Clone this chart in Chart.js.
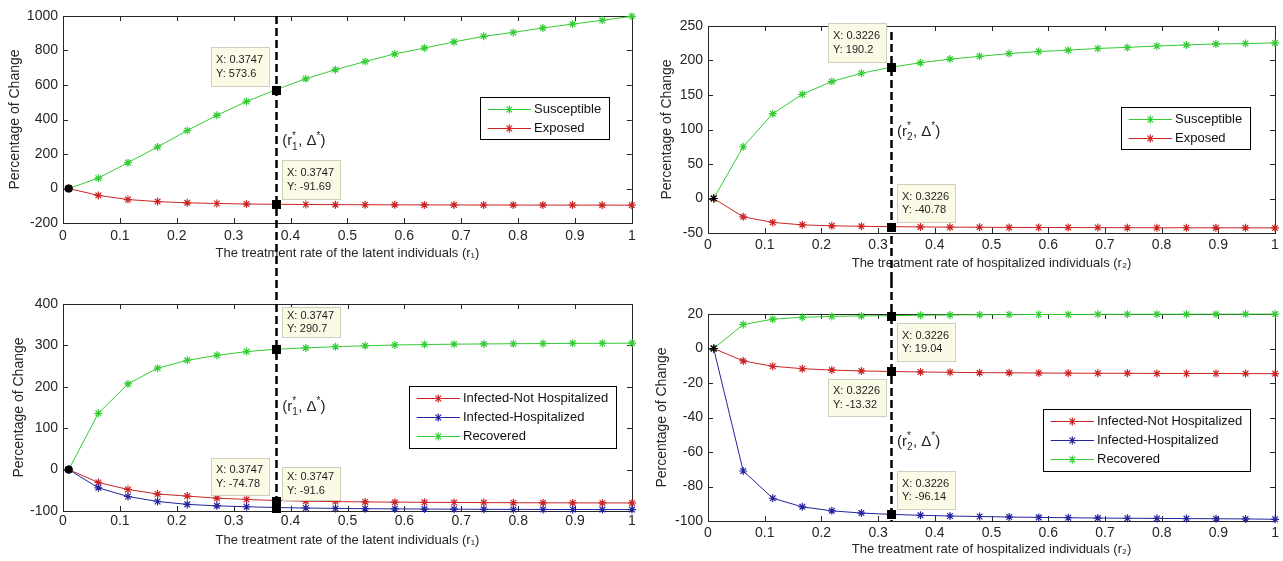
<!DOCTYPE html>
<html><head><meta charset="utf-8">
<script src="https://cdn.jsdelivr.net/npm/chart.js@4.4.1/dist/chart.umd.min.js"></script>
<style>
html,body{margin:0;padding:0;background:#fff;}
body{width:1283px;height:561px;position:relative;overflow:hidden;}
canvas{position:absolute;}
</style></head><body>
<canvas id="c1" width="640" height="280" style="left:0;top:0"></canvas>
<canvas id="c2" width="643" height="280" style="left:640px;top:0"></canvas>
<canvas id="c3" width="640" height="281" style="left:0;top:280px"></canvas>
<canvas id="c4" width="643" height="281" style="left:640px;top:280px"></canvas>
<script>
// ---- data ----
const rValues = [0.01, 0.0621, 0.1142, 0.1663, 0.2184, 0.2705, 0.3226, 0.3747, 0.4268, 0.4789,
                 0.5311, 0.5832, 0.6353, 0.6874, 0.7395, 0.7916, 0.8437, 0.8958, 0.9479, 1.0];
const xTickValues = [0, 0.1, 0.2, 0.3, 0.4, 0.5, 0.6, 0.7, 0.8, 0.9, 1];
const xTickLabels = ['0', '0.1', '0.2', '0.3', '0.4', '0.5', '0.6', '0.7', '0.8', '0.9', '1'];
const yTicksA = [-200, 0, 200, 400, 600, 800, 1000];
const yTicksB = [-50, 0, 50, 100, 150, 200, 250];
const yTicksC = [-100, 0, 100, 200, 300, 400];
const yTicksD = [-100, -80, -60, -40, -20, 0, 20];

// varying r1 (latent treatment)
const r1Susceptible = [0, 60, 150, 241, 336, 424, 504, 573.6, 636, 689, 736, 780, 814, 850, 882, 905, 931, 953, 975, 998];
const r1Exposed     = [0, -40, -64, -76, -83, -87, -90, -91.69, -92.8, -93.6, -94.2, -94.7, -95.1, -95.4, -95.7, -95.9, -96.1, -96.3, -96.4, -96.5];
const r1InfNotHosp  = [0, -31, -48, -59, -64, -69, -72, -74.78, -76.3, -77.3, -78, -78.6, -79, -79.4, -79.7, -80, -80.2, -80.4, -80.5, -80.6];
const r1InfHosp     = [0, -44, -65, -77, -84, -87.5, -89.7, -91.6, -92.8, -93.7, -94.4, -94.9, -95.3, -95.6, -95.9, -96.1, -96.3, -96.4, -96.5, -96.6];
const r1Recovered   = [0, 136, 207, 245, 264, 276, 285, 290.7, 294, 297, 299, 301, 302, 303, 303.5, 304, 304.5, 305, 305, 305.5];
// varying r2 (hospitalized treatment)
const r2Susceptible = [0, 75, 123, 151, 169.5, 181.5, 190.2, 196.8, 202, 206, 210, 213, 215, 217.5, 219, 221, 222.5, 224, 224.5, 225.5];
const r2Exposed     = [0, -26.5, -34.7, -38.2, -39.6, -40.3, -40.78, -41.2, -41.5, -41.7, -41.9, -42.0, -42.1, -42.2, -42.3, -42.4, -42.4, -42.5, -42.5, -42.6];
const r2InfNotHosp  = [0, -7.2, -10.3, -11.7, -12.5, -13.0, -13.32, -13.6, -13.8, -14.0, -14.1, -14.2, -14.3, -14.35, -14.4, -14.45, -14.5, -14.5, -14.55, -14.6];
const r2InfHosp     = [0, -71, -86.8, -91.8, -94.1, -95.4, -96.14, -96.7, -97.1, -97.4, -97.7, -97.9, -98.1, -98.3, -98.4, -98.5, -98.6, -98.7, -98.8, -99.0];
const r2Recovered   = [0, 13.9, 17, 18.1, 18.6, 18.9, 19.04, 19.3, 19.45, 19.55, 19.65, 19.7, 19.75, 19.8, 19.85, 19.88, 19.9, 19.92, 19.94, 19.96];

const r1StarIndex = 7;   // r1* = 0.3747
const r2StarIndex = 6;   // r2* = 0.3226

const GREEN = '#33cc33', RED = '#cc2424', BLUE = '#24249e';
const FONT = '"Liberation Sans", Arial, Helvetica, sans-serif';
const TXT = '#262626';
Chart.defaults.font.family = FONT;

function fmt(v) { return String(parseFloat(v.toPrecision(4))); }

function drawStar(ctx, x, y, r) {
  ctx.beginPath();
  ctx.moveTo(x - r, y); ctx.lineTo(x + r, y);
  ctx.moveTo(x, y - r); ctx.lineTo(x, y + r);
  const d = r * Math.SQRT1_2;
  ctx.moveTo(x - d, y - d); ctx.lineTo(x + d, y + d);
  ctx.moveTo(x - d, y + d); ctx.lineTo(x + d, y - d);
  ctx.stroke();
}

const matlabPlugin = {
  id: 'matlab',
  beforeDatasetsDraw(chart, args, o) {
    const {ctx, chartArea: a, scales: {x, y}} = chart;
    ctx.save();
    ctx.strokeStyle = '#262626'; ctx.lineWidth = 1;
    ctx.beginPath();
    for (const v of xTickValues) {
      const px = Math.round(x.getPixelForValue(v)) + 0.5;
      ctx.moveTo(px, a.bottom); ctx.lineTo(px, a.bottom - 5);
      ctx.moveTo(px, a.top); ctx.lineTo(px, a.top + 5);
    }
    for (const v of o.yTicks) {
      const py = Math.round(y.getPixelForValue(v)) + 0.5;
      ctx.moveTo(a.left, py); ctx.lineTo(a.left + 5, py);
      ctx.moveTo(a.right, py); ctx.lineTo(a.right - 5, py);
    }
    ctx.stroke();
    ctx.strokeRect(Math.round(a.left) + 0.5, Math.round(a.top) + 0.5,
                   Math.round(a.right - a.left), Math.round(a.bottom - a.top));
    ctx.restore();
  },
  afterDraw(chart, args, o) {
    const {ctx, chartArea: a, scales: {x, y}} = chart;
    const rStar = rValues[o.idx];
    const px = x.getPixelForValue(rStar);
    ctx.save();
    // dashed vertical line through the optimum
    ctx.setLineDash([8, 4]); ctx.lineWidth = 2.5; ctx.strokeStyle = '#000';
    ctx.beginPath();
    ctx.moveTo(Math.round(px) + 0.5, o.dashTop === null ? 0 : a.top + o.dashTop);
    ctx.lineTo(Math.round(px) + 0.5, o.dashBottom === null ? chart.height : a.bottom);
    ctx.stroke();
    ctx.setLineDash([]);
    // data tips
    for (const t of o.tips) {
      const ds = chart.data.datasets[t.ds];
      const pt = ds.data[o.idx];
      const qx = x.getPixelForValue(pt.x), qy = y.getPixelForValue(pt.y);
      ctx.fillStyle = '#000';
      ctx.fillRect(Math.round(qx) - 4, Math.round(qy) - 4, 9, 9);
      const l1 = 'X: ' + fmt(pt.x), l2 = 'Y: ' + fmt(pt.y);
      ctx.font = '11px ' + FONT;
      const w = Math.max(ctx.measureText(l1).width, ctx.measureText(l2).width) + 11;
      const h = t.h;
      const bx = Math.round(t.dx < 0 ? qx + t.dx - w : qx + t.dx);
      const by = Math.round(t.dy < 0 ? qy + t.dy - h : qy + t.dy);
      ctx.fillStyle = '#fafae6';
      ctx.fillRect(bx, by, w, h);
      ctx.strokeStyle = '#cfcfbd'; ctx.lineWidth = 1;
      ctx.strokeRect(bx + 0.5, by + 0.5, Math.round(w), h);
      ctx.fillStyle = '#1e1e1e'; ctx.textBaseline = 'middle'; ctx.textAlign = 'left';
      ctx.fillText(l1, bx + 5, by + h / 2 - 6.5);
      ctx.fillText(l2, bx + 5, by + h / 2 + 7);
    }
    // (r*, Δ*) annotation
    {
      let cx = px + 6;
      const cy = y.getPixelForValue(o.annotY);
      const big = '15px ' + FONT, small = '10px ' + FONT;
      ctx.fillStyle = '#1e1e1e'; ctx.textBaseline = 'middle'; ctx.textAlign = 'left';
      ctx.font = big; ctx.fillText('(r', cx, cy); cx += ctx.measureText('(r').width;
      ctx.font = small; ctx.fillText('*', cx, cy - 5); ctx.fillText(o.sub, cx, cy + 6);
      cx += ctx.measureText(o.sub).width + 0.5;
      ctx.font = big; ctx.fillText(', \u0394', cx, cy); cx += ctx.measureText(', \u0394').width;
      ctx.font = small; ctx.fillText('*', cx, cy - 5); cx += ctx.measureText('*').width;
      ctx.font = big; ctx.fillText(')', cx, cy);
    }
    // legend
    {
      const items = o.legend.map(i => chart.data.datasets[i]);
      ctx.font = '13px ' + FONT;
      const tw = Math.max(...items.map(d => ctx.measureText(d.label).width));
      const w = Math.round(54 + tw + 8), h = Math.round(items.length * 19.3 + 3.6);
      const bx = Math.round(a.right - o.legendRight - w), by = Math.round(a.top + o.legendTop);
      ctx.fillStyle = '#fff'; ctx.fillRect(bx, by, w, h);
      ctx.strokeStyle = '#000'; ctx.lineWidth = 1; ctx.strokeRect(bx + 0.5, by + 0.5, w, h);
      items.forEach((d, i) => {
        const cy = Math.round(by + 11.5 + 19.3 * i) + 0.5;
        ctx.strokeStyle = d.borderColor; ctx.lineWidth = 1;
        ctx.beginPath(); ctx.moveTo(bx + 7.7, cy); ctx.lineTo(bx + 51, cy); ctx.stroke();
        ctx.lineWidth = 1.2; drawStar(ctx, bx + 29.3, cy, 4);
        ctx.fillStyle = '#111'; ctx.textBaseline = 'middle'; ctx.textAlign = 'left';
        ctx.fillText(d.label, bx + 54, cy);
      });
    }
    ctx.restore();
  }
};

function makeChart(id, cfg) {
  const n = cfg.series.length;
  const datasets = cfg.series.map((s, i) => ({
    label: s.name,
    data: rValues.map((r, k) => ({x: r, y: s.values[k]})),
    borderColor: s.color, backgroundColor: s.color,
    borderWidth: 1, pointStyle: 'star', pointRadius: 4, pointHoverRadius: 4,
    pointBorderWidth: 1.2, tension: 0, clip: false, order: n - i
  }));
  datasets.push({
    label: '', data: [{x: rValues[0], y: cfg.series[0].values[0]}],
    showLine: false, borderColor: '#000', backgroundColor: '#000',
    pointStyle: cfg.originStyle, pointRadius: cfg.originStyle === 'circle' ? 3.5 : 4,
    pointBorderWidth: 1.2, clip: false, order: 0
  });
  return new Chart(document.getElementById(id), {
    type: 'line',
    data: {datasets},
    options: {
      responsive: false, animation: false, devicePixelRatio: 1, events: [],
      layout: {padding: {left: 0, right: cfg.padR, top: cfg.padT, bottom: 0}},
      plugins: {
        legend: {display: false}, tooltip: {enabled: false},
        matlab: cfg.extra
      },
      scales: {
        x: {
          type: 'linear', min: 0, max: 1,
          afterBuildTicks: s => { s.ticks = xTickValues.map(v => ({value: v})); },
          afterFit: s => { s.height = cfg.xH; },
          grid: {display: false, drawTicks: false}, border: {display: false},
          ticks: {padding: cfg.xTickPad, color: TXT, font: {size: 14}, maxRotation: 0, autoSkip: false,
                  callback: (v, i) => xTickLabels[i]},
          title: {display: true, text: cfg.xTitle, color: TXT, font: {size: 13},
                  padding: {top: 0, bottom: cfg.xTitlePad}}
        },
        y: {
          type: 'linear', min: cfg.yTicks[0], max: cfg.yTicks[cfg.yTicks.length - 1],
          afterBuildTicks: s => { s.ticks = cfg.yTicks.map(v => ({value: v})); },
          afterFit: s => { s.width = cfg.yW; },
          grid: {display: false, drawTicks: false}, border: {display: false},
          ticks: {padding: 5, color: TXT, font: {size: 14}, callback: (v, i) => String(cfg.yTicks[i])},
          title: {display: true, text: 'Percentage of Change', color: TXT, font: {size: 14},
                  padding: {top: cfg.yTitlePad, bottom: 0}}
        }
      }
    },
    plugins: [matlabPlugin]
  });
}

makeChart('c1', {
  series: [{name: 'Susceptible', values: r1Susceptible, color: GREEN},
           {name: 'Exposed', values: r1Exposed, color: RED}],
  originStyle: 'circle', yTicks: yTicksA,
  padR: 8, padT: 16, xH: 57, yW: 63, xTickPad: 4.3, xTitlePad: 19, yTitlePad: 7,
  xTitle: 'The treatment rate of the latent individuals (r\u2081)',
  extra: {idx: r1StarIndex, yTicks: yTicksA, dashTop: 0, dashBottom: null, annotY: 275, sub: '1',
          tips: [{ds: 0, dx: -7, dy: -4, h: 39}, {ds: 1, dx: 6, dy: -5, h: 39}],
          legend: [0, 1], legendRight: 23, legendTop: 81}
});
makeChart('c2', {
  series: [{name: 'Susceptible', values: r2Susceptible, color: GREEN},
           {name: 'Exposed', values: r2Exposed, color: RED}],
  originStyle: 'star', yTicks: yTicksB,
  padR: 7, padT: 26, xH: 47, yW: 68, xTickPad: 4.1, xTitlePad: 9, yTitlePad: 18.6,
  xTitle: 'The treatment rate of hospitalized individuals (r\u2082)',
  extra: {idx: r2StarIndex, yTicks: yTicksB, dashTop: 6, dashBottom: null, annotY: 97, sub: '2',
          tips: [{ds: 0, dx: -5, dy: -5, h: 39}, {ds: 1, dx: 6, dy: -5, h: 38}],
          legend: [0, 1], legendRight: 25, legendTop: 81}
});
makeChart('c3', {
  series: [{name: 'Infected-Not Hospitalized', values: r1InfNotHosp, color: RED},
           {name: 'Infected-Hospitalized', values: r1InfHosp, color: BLUE},
           {name: 'Recovered', values: r1Recovered, color: GREEN}],
  originStyle: 'circle', yTicks: yTicksC,
  padR: 8, padT: 24, xH: 50, yW: 63, xTickPad: 2, xTitlePad: 13, yTitlePad: 10.4,
  xTitle: 'The treatment rate of the latent individuals (r\u2081)',
  extra: {idx: r1StarIndex, yTicks: yTicksC, dashTop: null, dashBottom: 0, annotY: 152, sub: '1',
          tips: [{ds: 2, dx: 6, dy: -12, h: 30}, {ds: 0, dx: -7, dy: -6, h: 37}, {ds: 1, dx: 6, dy: -8, h: 33}],
          legend: [0, 1, 2], legendRight: 16, legendTop: 82}
});
makeChart('c4', {
  series: [{name: 'Infected-Not Hospitalized', values: r2InfNotHosp, color: RED},
           {name: 'Infected-Hospitalized', values: r2InfHosp, color: BLUE},
           {name: 'Recovered', values: r2Recovered, color: GREEN}],
  originStyle: 'star', yTicks: yTicksD,
  padR: 7, padT: 34, xH: 40, yW: 68, xTickPad: 4, xTitlePad: 4, yTitlePad: 14,
  xTitle: 'The treatment rate of hospitalized individuals (r\u2082)',
  extra: {idx: r2StarIndex, yTicks: yTicksD, dashTop: null, dashBottom: 0, annotY: -54, sub: '2',
          tips: [{ds: 2, dx: 6, dy: 7, h: 38}, {ds: 0, dx: -5, dy: 8, h: 37}, {ds: 1, dx: 6, dy: -5, h: 38}],
          legend: [0, 1, 2], legendRight: 25, legendTop: 95}
});
</script>
</body></html>
